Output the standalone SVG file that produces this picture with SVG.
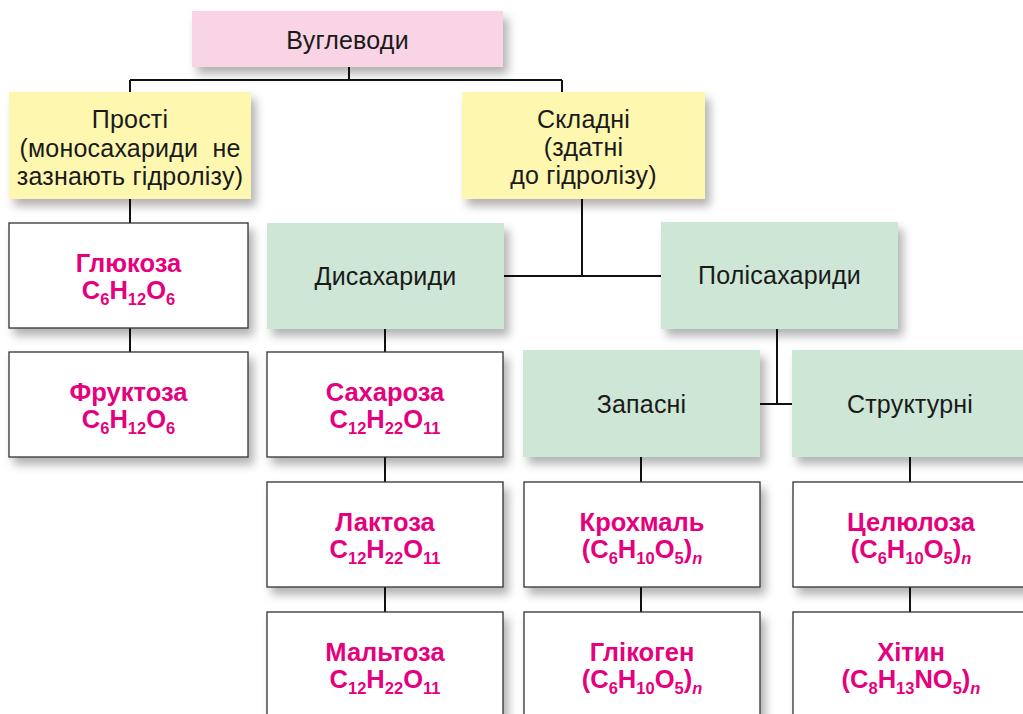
<svg xmlns="http://www.w3.org/2000/svg" width="1023" height="714" viewBox="0 0 1023 714">
<style>
.t{font-family:"Liberation Sans",Arial,sans-serif;font-size:25px;letter-spacing:0.2px;fill:#1a1a1a;text-anchor:middle}
.p{font-family:"Liberation Sans",Arial,sans-serif;font-size:25.5px;font-weight:bold;fill:#e5007e;text-anchor:middle}
.s{font-size:16.5px}
.pink{fill:#f8d4e5}
.yel{fill:#fef7b0}
.grn{fill:#cde6d6}
.wht{fill:#ffffff;stroke:#333333;stroke-width:1.3}
.c{fill:none;stroke:#111111;stroke-width:2}
</style>
<defs>
<filter id="sh" x="-10%" y="-10%" width="130%" height="140%">
<feDropShadow dx="5" dy="7" stdDeviation="5" flood-color="#000" flood-opacity="0.3"/>
</filter>
</defs>
<rect width="1023" height="714" fill="#ffffff"/>
<g id="connectors" class="c">
<path d="M349,67 V80 M130,80 H562 M130,80 V92 M562,80 V92"/>
<path d="M130,199 V223 M130,328 V352"/>
<path d="M582,199 V276 M504,276 H661"/>
<path d="M385,329 V352 M385,457 V482 M385,587 V612"/>
<path d="M777,329 V404 M760,404 H792"/>
<path d="M641,457 V482 M641,587 V612"/>
<path d="M910,457 V482 M910,587 V612"/>
</g>
<g id="n_vuglevody"><rect class="pink" x="192" y="11" width="311" height="56" filter="url(#sh)"/><text class="t" x="347.5" y="49">Вуглеводи</text></g>
<g id="n_prosti"><rect class="yel" x="9" y="92" width="242" height="107" filter="url(#sh)"/><text class="t" x="130" y="128">Прості</text><text class="t" x="130" y="156.5" xml:space="preserve">(моносахариди  не</text><text class="t" x="130" y="185">зазнають гідролізу)</text></g>
<g id="n_skladni"><rect class="yel" x="462" y="92" width="243" height="107" filter="url(#sh)"/><text class="t" x="583.5" y="128">Складні</text><text class="t" x="583.5" y="156">(здатні</text><text class="t" x="583.5" y="184">до гідролізу)</text></g>
<g id="n_disaxarydy"><rect class="grn" x="267" y="223" width="237" height="106" filter="url(#sh)"/><text class="t" x="385.5" y="285">Дисахариди</text></g>
<g id="n_polisaxarydy"><rect class="grn" x="661" y="222" width="237" height="107" filter="url(#sh)"/><text class="t" x="779.5" y="284">Полісахариди</text></g>
<g id="n_zapasni"><rect class="grn" x="523" y="350" width="237" height="107" filter="url(#sh)"/><text class="t" x="641.5" y="413">Запасні</text></g>
<g id="n_strukturni"><rect class="grn" x="792" y="350" width="240" height="107" filter="url(#sh)"/><text class="t" x="910" y="413">Структурні</text></g>
<g id="n_glukoza"><rect class="wht" x="9" y="223" width="239" height="105" filter="url(#sh)"/><text class="p" x="128.5" y="272">Глюкоза</text><text class="p" x="128.5" y="299">C<tspan class="s" dy="6">6</tspan><tspan dy="-6">H</tspan><tspan class="s" dy="6">12</tspan><tspan dy="-6">O</tspan><tspan class="s" dy="6">6</tspan></text></g>
<g id="n_fruktoza"><rect class="wht" x="9" y="352" width="239" height="105" filter="url(#sh)"/><text class="p" x="128.5" y="401">Фруктоза</text><text class="p" x="128.5" y="428">C<tspan class="s" dy="6">6</tspan><tspan dy="-6">H</tspan><tspan class="s" dy="6">12</tspan><tspan dy="-6">O</tspan><tspan class="s" dy="6">6</tspan></text></g>
<g id="n_saxaroza"><rect class="wht" x="267" y="352" width="236" height="105" filter="url(#sh)"/><text class="p" x="385" y="401">Сахароза</text><text class="p" x="385" y="428">C<tspan class="s" dy="6">12</tspan><tspan dy="-6">H</tspan><tspan class="s" dy="6">22</tspan><tspan dy="-6">O</tspan><tspan class="s" dy="6">11</tspan></text></g>
<g id="n_laktoza"><rect class="wht" x="267" y="482" width="236" height="105" filter="url(#sh)"/><text class="p" x="385" y="531">Лактоза</text><text class="p" x="385" y="558">C<tspan class="s" dy="6">12</tspan><tspan dy="-6">H</tspan><tspan class="s" dy="6">22</tspan><tspan dy="-6">O</tspan><tspan class="s" dy="6">11</tspan></text></g>
<g id="n_maltoza"><rect class="wht" x="267" y="612" width="236" height="110" filter="url(#sh)"/><text class="p" x="385" y="661">Мальтоза</text><text class="p" x="385" y="688">C<tspan class="s" dy="6">12</tspan><tspan dy="-6">H</tspan><tspan class="s" dy="6">22</tspan><tspan dy="-6">O</tspan><tspan class="s" dy="6">11</tspan></text></g>
<g id="n_kroxmal"><rect class="wht" x="524" y="482" width="236" height="105" filter="url(#sh)"/><text class="p" x="642" y="531">Крохмаль</text><text class="p" x="642" y="558">(C<tspan class="s" dy="6">6</tspan><tspan dy="-6">H</tspan><tspan class="s" dy="6">10</tspan><tspan dy="-6">O</tspan><tspan class="s" dy="6">5</tspan><tspan dy="-6">)</tspan><tspan class="s" dy="6" font-style="italic">n</tspan></text></g>
<g id="n_glikogen"><rect class="wht" x="524" y="612" width="236" height="110" filter="url(#sh)"/><text class="p" x="642" y="661">Глікоген</text><text class="p" x="642" y="688">(C<tspan class="s" dy="6">6</tspan><tspan dy="-6">H</tspan><tspan class="s" dy="6">10</tspan><tspan dy="-6">O</tspan><tspan class="s" dy="6">5</tspan><tspan dy="-6">)</tspan><tspan class="s" dy="6" font-style="italic">n</tspan></text></g>
<g id="n_celuloza"><rect class="wht" x="793" y="482" width="240" height="105" filter="url(#sh)"/><text class="p" x="911" y="531">Целюлоза</text><text class="p" x="911" y="558">(C<tspan class="s" dy="6">6</tspan><tspan dy="-6">H</tspan><tspan class="s" dy="6">10</tspan><tspan dy="-6">O</tspan><tspan class="s" dy="6">5</tspan><tspan dy="-6">)</tspan><tspan class="s" dy="6" font-style="italic">n</tspan></text></g>
<g id="n_xityn"><rect class="wht" x="793" y="612" width="240" height="110" filter="url(#sh)"/><text class="p" x="911" y="661">Хітин</text><text class="p" x="911" y="688">(C<tspan class="s" dy="6">8</tspan><tspan dy="-6">H</tspan><tspan class="s" dy="6">13</tspan><tspan dy="-6">NO</tspan><tspan class="s" dy="6">5</tspan><tspan dy="-6">)</tspan><tspan class="s" dy="6" font-style="italic">n</tspan></text></g>
</svg>
